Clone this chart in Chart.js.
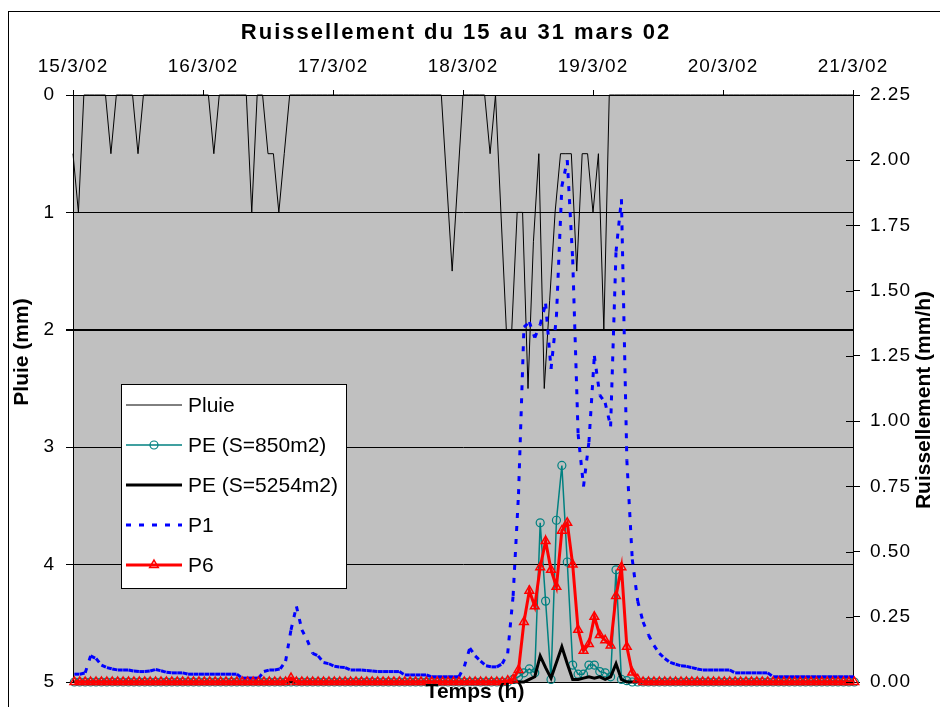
<!DOCTYPE html>
<html>
<head>
<meta charset="utf-8">
<title>Ruissellement du 15 au 31 mars 02</title>
<script src="https://cdn.jsdelivr.net/npm/chart.js@4.4.1/dist/chart.umd.min.js"></script>
<style>
  html, body { margin: 0; padding: 0; background: #fff; }
  #wrap { position: relative; width: 940px; height: 707px; overflow: hidden; }
  canvas { position: absolute; left: 0; top: 0; }
</style>
</head>
<body>
<div id="wrap"><canvas id="chart" width="940" height="707"></canvas></div>
<script>
/* Ruissellement du 15 au 31 mars 02 - pluie (axe gauche, inversé) + ruissellement (axe droit) */

const FONT = '"Liberation Sans", Arial, sans-serif';
const TITLE = 'Ruissellement du 15 au 31 mars 02';
const DATE_LABELS = ['15/3/02', '16/3/02', '17/3/02', '18/3/02', '19/3/02', '20/3/02', '21/3/02'];
const X_TITLE = 'Temps (h)';
const Y_LEFT_TITLE = 'Pluie (mm)';
const Y_RIGHT_TITLE = 'Ruissellement (mm/h)';

const HOURS_MAX = 144;   // 6 jours
const PLUIE_T0 = 0;      // heure du premier pas de temps (pluie)
const RUISS_T0 = 0.25;   // heure du premier pas de temps (ruissellement)

/* ---------- pas horaire, une ligne = un jour ---------- */
const PLUIE = [
  0.5, 1, 0, 0, 0, 0, 0, 0.5, 0, 0, 0, 0, 0.5, 0, 0, 0, 0, 0, 0, 0, 0, 0, 0, 0,
  0, 0, 0.5, 0, 0, 0, 0, 0, 0, 1, 0, 0, 0.5, 0.5, 1, 0.5, 0, 0, 0, 0, 0, 0, 0, 0,
  0, 0, 0, 0, 0, 0, 0, 0, 0, 0, 0, 0, 0, 0, 0, 0, 0, 0, 0, 0, 0, 0.75, 1.5, 0.75,
  0, 0, 0, 0, 0, 0.5, 0, 1, 2, 2, 1, 1, 2.5, 1.25, 0.5, 2.5, 1.75, 1, 0.5, 0.5, 0.5, 1.5, 0.5, 0.5,
  1, 0.5, 2, 0, 0, 0, 0, 0, 0, 0, 0, 0, 0, 0, 0, 0, 0, 0, 0, 0, 0, 0, 0, 0,
  0, 0, 0, 0, 0, 0, 0, 0, 0, 0, 0, 0, 0, 0, 0, 0, 0, 0, 0, 0, 0, 0, 0, 0,
  0
];

const PE_850 = [
  0, 0, 0, 0, 0, 0, 0, 0, 0, 0, 0, 0, 0, 0, 0, 0, 0, 0, 0, 0, 0, 0, 0, 0,
  0, 0, 0, 0, 0, 0, 0, 0, 0, 0, 0, 0, 0, 0, 0, 0, 0, 0, 0, 0, 0, 0, 0, 0,
  0, 0, 0, 0, 0, 0, 0, 0, 0, 0, 0, 0, 0, 0, 0, 0, 0, 0, 0, 0, 0, 0, 0, 0,
  0, 0, 0, 0, 0, 0, 0, 0, 0, 0.01, 0.02, 0.035, 0.05, 0.035, 0.61, 0.31, 0.01, 0.62, 0.83, 0.46, 0.065, 0.03, 0.03, 0.065,
  0.065, 0.04, 0.035, 0.02, 0.43, 0.01, 0.005, 0, 0, 0, 0, 0, 0, 0, 0, 0, 0, 0, 0, 0, 0, 0, 0, 0,
  0, 0, 0, 0, 0, 0, 0, 0, 0, 0, 0, 0, 0, 0, 0, 0, 0, 0, 0, 0, 0, 0, 0, 0,
  0
];

const PE_5254 = [
  0, 0, 0, 0, 0, 0, 0, 0, 0, 0, 0, 0, 0, 0, 0, 0, 0, 0, 0, 0, 0, 0, 0, 0,
  0, 0, 0, 0, 0, 0, 0, 0, 0, 0, 0, 0, 0, 0, 0, 0, 0, 0, 0, 0, 0, 0, 0, 0,
  0, 0, 0, 0, 0, 0, 0, 0, 0, 0, 0, 0, 0, 0, 0, 0, 0, 0, 0, 0, 0, 0, 0, 0,
  0, 0, 0, 0, 0, 0, 0, 0, 0, 0, 0, 0, 0.01, 0.02, 0.10, 0.055, 0.015, 0.075, 0.135, 0.07, 0.01, 0.01, 0.015, 0.02,
  0.015, 0.02, 0.01, 0.02, 0.07, 0.01, 0, 0, 0, 0, 0, 0, 0, 0, 0, 0, 0, 0, 0, 0, 0, 0, 0, 0,
  0, 0, 0, 0, 0, 0, 0, 0, 0, 0, 0, 0, 0, 0, 0, 0, 0, 0, 0, 0, 0, 0, 0, 0,
  0
];

const P1 = [
  0.03, 0.03, 0.035, 0.10, 0.09, 0.065, 0.055, 0.05, 0.046, 0.046, 0.046, 0.042, 0.04, 0.04, 0.042, 0.048, 0.043, 0.037, 0.035, 0.035, 0.035, 0.03, 0.03, 0.03,
  0.03, 0.03, 0.03, 0.03, 0.03, 0.03, 0.03, 0.015, 0.015, 0.015, 0.015, 0.04, 0.046, 0.046, 0.05, 0.08, 0.2, 0.29, 0.2, 0.16, 0.11, 0.10, 0.075, 0.07,
  0.06, 0.057, 0.055, 0.046, 0.046, 0.046, 0.044, 0.042, 0.04, 0.04, 0.04, 0.04, 0.04, 0.027, 0.027, 0.027, 0.027, 0.027, 0.02, 0.02, 0.02, 0.02, 0.02, 0.02,
  0.06, 0.13, 0.10, 0.08, 0.062, 0.058, 0.058, 0.07, 0.11, 0.33, 0.72, 1.36, 1.38, 1.32, 1.37, 1.45, 1.2, 1.4, 1.9, 2.0, 1.62, 0.95, 0.75, 0.92,
  1.25, 1.1, 1.07, 0.98, 1.65, 1.85, 0.85, 0.47, 0.31, 0.23, 0.18, 0.14, 0.11, 0.09, 0.075, 0.068, 0.062, 0.06, 0.055, 0.05, 0.046, 0.046, 0.046, 0.046,
  0.046, 0.046, 0.035, 0.035, 0.035, 0.035, 0.035, 0.035, 0.035, 0.02, 0.02, 0.02, 0.02, 0.02, 0.02, 0.02, 0.02, 0.02, 0.02, 0.02, 0.02, 0.02, 0.02, 0.02,
  0.02
];

const P6 = [
  0, 0, 0, 0, 0, 0, 0, 0, 0, 0, 0, 0, 0, 0, 0, 0, 0, 0, 0, 0, 0, 0, 0, 0,
  0, 0, 0, 0, 0, 0, 0, 0, 0, 0, 0, 0, 0, 0, 0, 0, 0.015, 0, 0, 0, 0, 0, 0, 0,
  0, 0, 0, 0, 0, 0, 0, 0, 0, 0, 0, 0, 0, 0, 0, 0, 0, 0, 0, 0, 0, 0, 0, 0,
  0, 0, 0, 0, 0, 0, 0, 0, 0.005, 0.01, 0.046, 0.23, 0.35, 0.29, 0.44, 0.54, 0.43, 0.365, 0.58, 0.61, 0.45, 0.20, 0.12, 0.146,
  0.25, 0.18, 0.16, 0.14, 0.33, 0.44, 0.135, 0.036, 0.01, 0, 0, 0, 0, 0, 0, 0, 0, 0, 0, 0, 0, 0, 0, 0,
  0, 0, 0, 0, 0, 0, 0, 0, 0, 0, 0, 0, 0, 0, 0, 0, 0, 0, 0, 0, 0, 0, 0, 0,
  0
];

/* ---------- helpers ---------- */
function toPoints(values, t0){ return values.map((v, i) => ({ x: t0 + i, y: v })); }

function drawMarker(ctx, style, r, x, y){
  ctx.beginPath();
  if(style === 'circle') ctx.arc(x, y, r, 0, Math.PI * 2);
  else if(style === 'triangle'){
    for(let k = 0; k < 3; k++){
      const a = k * 2 * Math.PI / 3;
      const px = x + Math.sin(a) * r, py = y - Math.cos(a) * r;
      if(k) ctx.lineTo(px, py); else ctx.moveTo(px, py);
    }
    ctx.closePath();
  }
  ctx.stroke();
}

/* ---------- plugins ---------- */
const plotBg = {
  id: 'plotBg',
  beforeLayout(chart){ chart.ctx.letterSpacing = '1px'; },
  beforeDraw(chart){
    const { ctx, chartArea: a } = chart;
    ctx.letterSpacing = '1px';
    ctx.save();
    ctx.fillStyle = '#C0C0C0';
    ctx.fillRect(a.left, a.top, a.right - a.left, a.bottom - a.top);
    ctx.restore();
  }
};

const decor = {
  id: 'decor',
  afterDraw(chart){
    const ctx = chart.ctx;
    ctx.save();
    ctx.fillStyle = '#000';
    ctx.strokeStyle = '#000';

    // cadre extérieur
    ctx.lineWidth = 1;
    ctx.strokeRect(8.5, 11.5, 2000, 2000);

    // titre
    ctx.letterSpacing = '2px';
    ctx.font = 'bold 22px ' + FONT;
    ctx.textAlign = 'center';
    ctx.textBaseline = 'middle';
    ctx.fillText(TITLE, 456, 33);

    // titres d'axes
    ctx.letterSpacing = '0px';
    ctx.font = 'bold 21px ' + FONT;
    ctx.fillText(X_TITLE, 475, 692);
    ctx.save(); ctx.translate(22, 352); ctx.rotate(-Math.PI / 2); ctx.fillText(Y_LEFT_TITLE, 0, 0); ctx.restore();
    ctx.save(); ctx.translate(924, 400); ctx.rotate(-Math.PI / 2); ctx.fillText(Y_RIGHT_TITLE, 0, 0); ctx.restore();

    // graduations droites, partie intérieure
    const s = chart.scales.y2;
    ctx.beginPath();
    s.ticks.forEach(t => {
      const py = Math.round(s.getPixelForValue(t.value)) + 0.5;
      ctx.moveTo(s.left - 7, py); ctx.lineTo(s.left, py);
    });
    ctx.stroke();

    // légende
    const box = { x: 121, y: 384, w: 225, h: 204 };
    ctx.fillStyle = '#fff';
    ctx.fillRect(box.x, box.y, box.w, box.h);
    ctx.lineWidth = 1;
    ctx.strokeRect(box.x + 0.5, box.y + 0.5, box.w, box.h);
    ctx.font = '21px ' + FONT;
    ctx.textAlign = 'left';
    chart.data.datasets.forEach((ds, k) => {
      const y = box.y + 21 + k * 40;
      ctx.strokeStyle = ds.borderColor;
      ctx.lineWidth = ds.borderWidth;
      ctx.setLineDash(ds.borderDash || []);
      ctx.beginPath(); ctx.moveTo(126, y); ctx.lineTo(182, y); ctx.stroke();
      ctx.setLineDash([]);
      if(ds.pointRadius > 0){
        ctx.lineWidth = ds.pointBorderWidth;
        ctx.strokeStyle = ds.pointBorderColor;
        drawMarker(ctx, ds.pointStyle, ds.pointRadius, 154, y);
      }
      ctx.fillStyle = '#000';
      ctx.fillText(ds.label, 188, y + 1);
    });
    ctx.restore();
  }
};

/* ---------- chart ---------- */
const tickFont = { family: FONT, size: 19 };

new Chart(document.getElementById('chart').getContext('2d'), {
  type: 'line',
  data: {
    datasets: [
      {
        label: 'Pluie', data: toPoints(PLUIE, PLUIE_T0), yAxisID: 'y', xAxisID: 'x',
        borderColor: '#000000', borderWidth: 1, pointRadius: 0, order: 4, clip: false
      },
      {
        label: 'PE (S=850m2)', data: toPoints(PE_850, RUISS_T0), yAxisID: 'y2', xAxisID: 'x',
        borderColor: '#008080', borderWidth: 1.5, pointStyle: 'circle', pointRadius: 4,
        pointBorderColor: '#008080', pointBackgroundColor: 'rgba(0,0,0,0)', pointBorderWidth: 1.2,
        order: 3, clip: false
      },
      {
        label: 'PE (S=5254m2)', data: toPoints(PE_5254, RUISS_T0), yAxisID: 'y2', xAxisID: 'x',
        borderColor: '#000000', borderWidth: 3, pointRadius: 0, order: 2, clip: false
      },
      {
        label: 'P1', data: toPoints(P1, RUISS_T0), yAxisID: 'y2', xAxisID: 'x',
        borderColor: '#0000FF', borderWidth: 3, borderDash: [5, 8], pointRadius: 0,
        // chaque segment repart au début du pointillé, comme Excel
        segment: { borderDashOffset: c => (c.p0DataIndex % 2) * 0.001 },
        order: 1, clip: false
      },
      {
        label: 'P6', data: toPoints(P6, RUISS_T0), yAxisID: 'y2', xAxisID: 'x',
        borderColor: '#FF0000', borderWidth: 3, pointStyle: 'triangle', pointRadius: 5,
        pointBorderColor: '#FF0000', pointBackgroundColor: 'rgba(0,0,0,0)', pointBorderWidth: 1.5,
        order: 0, clip: false
      }
    ]
  },
  options: {
    responsive: false,
    animation: false,
    devicePixelRatio: 1,
    events: [],
    layout: { padding: 0 },
    elements: { line: { tension: 0 } },
    plugins: { legend: { display: false }, title: { display: false }, tooltip: { enabled: false } },
    scales: {
      x: {
        type: 'linear', position: 'top', min: 0, max: HOURS_MAX,
        ticks: {
          stepSize: 24, autoSkip: false, maxRotation: 0, padding: 12, color: '#000', font: tickFont,
          callback: v => DATE_LABELS[v / 24]
        },
        grid: { drawOnChartArea: false, color: '#000', tickLength: 5 },
        border: { color: '#000', width: 1 },
        afterFit: s => { s.height = 95; }
      },
      xb: {
        type: 'linear', position: 'bottom', min: 0, max: HOURS_MAX,
        ticks: { display: false },
        grid: { display: false },
        border: { display: true, color: '#000', width: 1 },
        afterFit: s => { s.height = 25; }
      },
      y: {
        type: 'linear', position: 'left', reverse: true, min: 0, max: 5,
        ticks: { stepSize: 1, padding: 11, color: '#000', font: tickFont },
        grid: { color: '#000', lineWidth: c => (c.tick && c.tick.value === 2 ? 2 : 1), tickLength: 7 },
        border: { color: '#000', width: 1 },
        afterFit: s => { s.width = 73; }
      },
      y2: {
        type: 'linear', position: 'right', min: 0, max: 2.25,
        ticks: { stepSize: 0.25, padding: 10, color: '#000', font: tickFont, callback: v => v.toFixed(2) },
        grid: { drawOnChartArea: false, color: '#000', tickLength: 7 },
        border: { color: '#000', width: 1 },
        afterFit: s => { s.width = 87; }
      }
    }
  },
  plugins: [plotBg, decor]
});
</script>
</body>
</html>
